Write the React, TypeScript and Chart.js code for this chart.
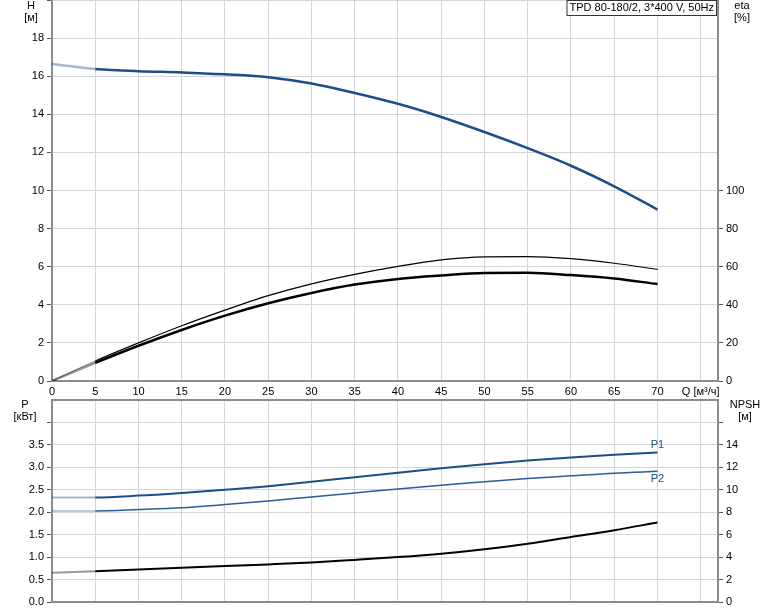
import React, { useEffect, useRef } from 'react';
import { Chart, registerables } from 'chart.js';

Chart.register(...registerables);

const flow = [0, 5, 10, 15, 20, 25, 30, 35, 40, 45, 50, 55, 60, 65, 70];
const headM = [16.64, 16.38, 16.26, 16.2, 16.1, 15.95, 15.62, 15.12, 14.55, 13.86, 13.07, 12.22, 11.3, 10.22, 9.0];
const etaPump = [0, 10.5, 20, 29, 37.2, 44.8, 51, 56, 60.2, 63.6, 65.2, 65.3, 64.2, 61.8, 58.6];
const etaTotal = [0, 9.5, 18.5, 26.8, 34.3, 40.8, 46.2, 50.6, 53.6, 55.4, 56.7, 56.8, 55.6, 53.8, 50.9];
const powerP1 = [2.33, 2.33, 2.37, 2.43, 2.5, 2.58, 2.68, 2.78, 2.88, 2.98, 3.07, 3.15, 3.22, 3.28, 3.33];
const powerP2 = [2.03, 2.03, 2.06, 2.1, 2.17, 2.25, 2.34, 2.43, 2.52, 2.6, 2.68, 2.75, 2.81, 2.87, 2.91];
const npshM = [2.6, 2.75, 2.9, 3.05, 3.2, 3.35, 3.52, 3.75, 4.0, 4.3, 4.7, 5.2, 5.8, 6.4, 7.08];

const qTicks = [0, 5, 10, 15, 20, 25, 30, 35, 40, 45, 50, 55, 60, 65, 70, 75];
const hTicks = [0, 2, 4, 6, 8, 10, 12, 14, 16, 18, 20];
const etaTicks = [0, 20, 40, 60, 80, 100];
const pTicks = [0, 0.5, 1, 1.5, 2, 2.5, 3, 3.5, 4];
const npshTicks = [0, 2, 4, 6, 8, 10, 12, 14, 16];

const titleText = 'TPD 80-180/2, 3*400 V, 50Hz';
const qLabel = 'Q [м³/ч]';

const FONT = "'Liberation Sans', Arial, sans-serif";
const GRID = '#d2d5d9';
const AXIS = '#8c8c8c';
const TICK = '#555555';
const BLUE = '#1d4e89';
const BLUE2 = '#2b5e98';
const LIGHT_BLUE = 'rgba(29,78,137,0.4)';
const LIGHT_BLACK = 'rgba(0,0,0,0.4)';

const pts = (ys: number[]) => flow.map((x, i) => ({ x, y: ys[i] }));

const setTicks = (vals: number[]) => (s: any) => {
  s.ticks = vals.map((v) => ({ value: v }));
};

function lineDs(label: string, ys: number[], axis: string, color: string, light: string, width: number) {
  return {
    label,
    data: pts(ys),
    yAxisID: axis,
    borderColor: color,
    borderWidth: width,
    pointRadius: 0,
    cubicInterpolationMode: 'monotone' as const,
    fill: false,
    segment: {
      borderColor: (c: any) => (c.p0DataIndex === 0 ? light : undefined),
    },
  };
}

function yAxis(pos: 'left' | 'right', min: number, max: number, ticks: number[], fmt: (v: number) => string, width: number, onArea: boolean) {
  return {
    type: 'linear' as const,
    position: pos,
    min,
    max,
    afterBuildTicks: setTicks(ticks),
    afterFit: (s: any) => {
      s.width = width;
      s.paddingTop = 0;
      s.paddingBottom = 0;
    },
    ticks: {
      callback: (v: any) => fmt(Number(v)),
      color: '#000',
      padding: 3,
      font: { family: FONT, size: 11 },
      autoSkip: false,
    },
    grid: { color: GRID, drawOnChartArea: onArea, tickLength: 5, tickColor: TICK, tickWidth: 1 },
    border: { color: AXIS, width: 2 },
  };
}

const topPlugin = {
  id: 'topDecor',
  afterDraw(chart: any) {
    const ctx = chart.ctx;
    const area = chart.chartArea;
    ctx.save();
    ctx.font = `11px ${FONT}`;
    ctx.fillStyle = '#000';
    ctx.textAlign = 'center';
    ctx.textBaseline = 'middle';
    ctx.fillText('H', 31, 6);
    ctx.fillText('[м]', 31, 18);
    ctx.fillText('eta', 742, 6);
    ctx.fillText('[%]', 742, 18);
    const w = ctx.measureText(titleText).width + 6;
    const bx = area.right - 1 - w;
    ctx.fillStyle = '#fff';
    ctx.fillRect(bx, 0, w, 16);
    ctx.strokeStyle = '#333';
    ctx.lineWidth = 1;
    ctx.strokeRect(bx + 0.5, 0.5, w - 1, 15);
    ctx.fillStyle = '#000';
    ctx.textAlign = 'left';
    ctx.fillText(titleText, bx + 3, 8);
    ctx.restore();
  },
};

const bottomPlugin = {
  id: 'bottomDecor',
  afterDraw(chart: any) {
    const ctx = chart.ctx;
    const area = chart.chartArea;
    ctx.save();
    ctx.strokeStyle = AXIS;
    ctx.lineWidth = 2;
    ctx.beginPath();
    ctx.moveTo(area.left - 1, area.top);
    ctx.lineTo(area.right + 1, area.top);
    ctx.stroke();
    ctx.font = `11px ${FONT}`;
    ctx.fillStyle = '#000';
    ctx.textAlign = 'center';
    ctx.textBaseline = 'middle';
    ctx.fillText('P', 25, 6);
    ctx.fillText('[кВт]', 25, 18);
    ctx.fillText('NPSH', 745, 6);
    ctx.fillText('[м]', 745, 18);
    const xs = chart.scales.x;
    const yp = chart.scales.p;
    const lx = xs.getPixelForValue(flow[flow.length - 1]);
    ctx.fillStyle = BLUE;
    ctx.fillText('P1', lx, yp.getPixelForValue(powerP1[powerP1.length - 1]) - 8);
    ctx.fillText('P2', lx, yp.getPixelForValue(powerP2[powerP2.length - 1]) + 8);
    ctx.restore();
  },
};

export default function App() {
  const topRef = useRef<HTMLCanvasElement>(null);
  const botRef = useRef<HTMLCanvasElement>(null);

  useEffect(() => {
    Chart.defaults.font.family = FONT;
    Chart.defaults.font.size = 11;
    Chart.defaults.color = '#000';

    const top = new Chart(topRef.current!, {
      type: 'line',
      data: {
        datasets: [
          lineDs('eta pump', etaPump, 'eta', '#000', LIGHT_BLACK, 1.2),
          lineDs('eta total', etaTotal, 'eta', '#000', LIGHT_BLACK, 2.5),
          lineDs('H', headM, 'h', BLUE, LIGHT_BLUE, 2.5),
        ] as any,
      },
      options: {
        responsive: false,
        maintainAspectRatio: false,
        animation: false,
        layout: { padding: 0 },
        plugins: { legend: { display: false }, tooltip: { enabled: false } },
        scales: {
          x: {
            type: 'linear',
            min: 0,
            max: 77,
            afterBuildTicks: setTicks(qTicks),
            afterFit: (s: any) => {
              s.height = 19;
              s.paddingLeft = 0;
              s.paddingRight = 0;
            },
            ticks: {
              callback: (v: any) => (Number(v) === 75 ? qLabel : String(v)),
              color: '#000',
              maxRotation: 0,
              autoSkip: false,
              padding: 4,
              font: { family: FONT, size: 11 },
            },
            grid: { color: GRID, drawTicks: false },
            border: { color: AXIS, width: 2 },
          },
          h: yAxis('left', 0, 20, hTicks, (v) => (v === 20 ? '' : String(v)), 52, true),
          eta: yAxis('right', 0, 200, etaTicks, (v) => String(v), 56, false),
        } as any,
      },
      plugins: [topPlugin],
    });

    const bottom = new Chart(botRef.current!, {
      type: 'line',
      data: {
        datasets: [
          lineDs('NPSH', npshM, 'npsh', '#000', LIGHT_BLACK, 2),
          lineDs('P2', powerP2, 'p', BLUE2, LIGHT_BLUE, 1.5),
          lineDs('P1', powerP1, 'p', BLUE, LIGHT_BLUE, 2),
        ] as any,
      },
      options: {
        responsive: false,
        maintainAspectRatio: false,
        animation: false,
        layout: { padding: { top: 1 } },
        plugins: { legend: { display: false }, tooltip: { enabled: false } },
        scales: {
          x: {
            type: 'linear',
            min: 0,
            max: 77,
            afterBuildTicks: setTicks(qTicks),
            afterFit: (s: any) => {
              s.height = 9;
              s.paddingLeft = 0;
              s.paddingRight = 0;
            },
            ticks: { display: false },
            grid: { color: GRID, drawTicks: false },
            border: { color: AXIS, width: 2 },
          },
          p: yAxis('left', 0, 4.5, pTicks, (v) => (v === 4 ? '' : v.toFixed(1)), 52, true),
          npsh: yAxis('right', 0, 18, npshTicks, (v) => (v === 16 ? '' : String(v)), 56, false),
        } as any,
      },
      plugins: [bottomPlugin],
    });

    return () => {
      top.destroy();
      bottom.destroy();
    };
  }, []);

  return (
    <div style={{ position: 'absolute', left: 0, top: 0, width: 774, height: 611, background: '#fff' }}>
      <canvas ref={topRef} width={774} height={400} style={{ position: 'absolute', left: 0, top: 0, display: 'block' }} />
      <canvas ref={botRef} width={774} height={212} style={{ position: 'absolute', left: 0, top: 399, display: 'block' }} />
    </div>
  );
}
